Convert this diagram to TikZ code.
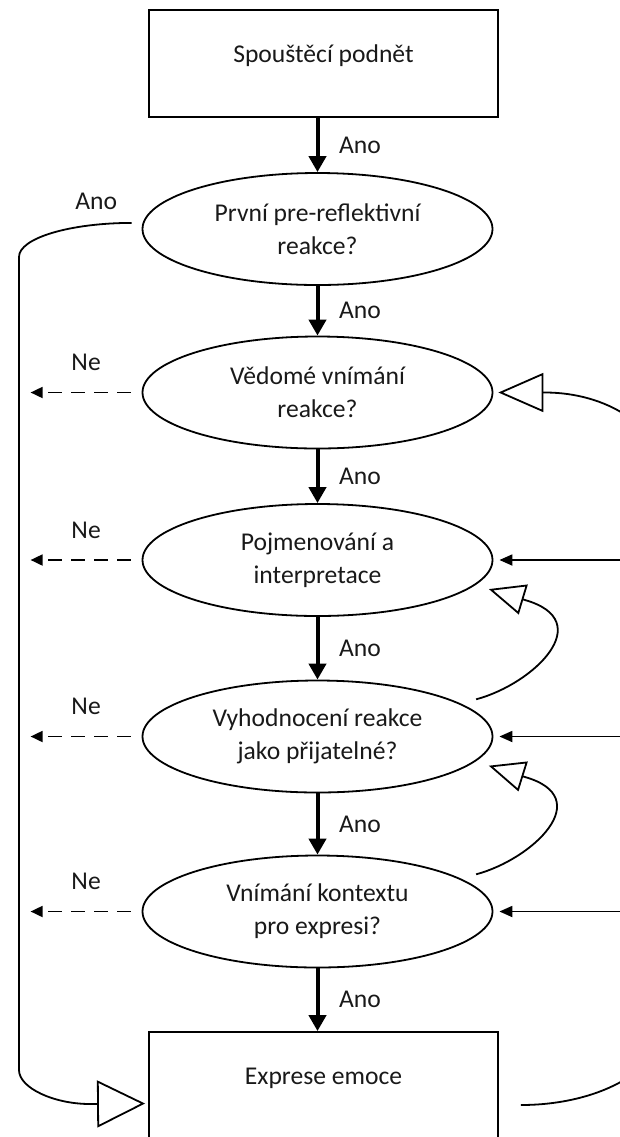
\documentclass[tikz,border=0pt]{standalone}
\usepackage{fontspec}
\setmainfont{Carlito}
\usetikzlibrary{shapes.geometric}
\usetikzlibrary{arrows.meta}
\tikzset{
    stepbox/.style = {rectangle, draw=black, line width=0.9pt, minimum width=174.5pt, inner ysep=0pt, text height=26pt, text depth=27.5pt},
    query/.style = {ellipse, draw=black, line width=0.9pt, minimum width=175pt, minimum height=56pt, inner sep=0pt, align=center},
    edgey/.style = {-{Triangle[length=8pt,width=8.5pt]}, line width=2pt}, % ano
    edgen/.style = {-{Triangle[length=6pt,width=5.5pt]}, line width=0.9pt, dash pattern=on 7pt off 4.5pt}, % ne
    edgeb/.style = {-{Triangle[length=6.5pt,width=5.5pt]}, line width=0.9pt}, % back
    edgeo/.style = {-{Triangle[open,length=18pt,width=15.5pt]}, line width=0.9pt}, % loop
    edgeob/.style = {-{Triangle[open,length=22.5pt,width=19.5pt]}, line width=0.9pt}, % big loop
    edgeol/.style = {-{Triangle[open,length=24pt,width=23.5pt]}, line width=0.9pt}, % skip
    every node/.style = {font=\fontsize{12.8pt}{16.5pt}\selectfont, text=black!90}
}
\begin{document}
\begin{tikzpicture}[x=0.5pt,y=0.5pt]
\useasboundingbox (0,0) rectangle (620,-1137);
\clip (0,0) rectangle (620,-1137);
%
\node[stepbox] at (323.5,-63.5) (start) {Spouštěcí podnět};
\node[query] at (317.5,-229) (q1) {První pre-reflektivní\\reakce?};
\node[query] at (317.5,-392.5) (q2) {Vědomé vnímání\\reakce?};
\node[query] at (317.5,-560) (q3) {Pojmenování a\\interpretace};
\node[query] at (317.5,-736.5) (q4) {Vyhodnocení reakce\\jako přijatelné?};
\node[query] at (317.5,-911.5) (q5) {Vnímání kontextu\\pro expresi?};
\node[stepbox] at (323.5,-1085.5) (expr) {Exprese emoce};
\coordinate (rail) at (660,-700);
%
\draw[edgey] (start.south -| q1.north) -- node[right=6.5pt] {Ano} (q1.north);
\draw[edgey] (q1) -- node[right=6.5pt] {Ano} (q2);
\draw[edgey] (q2) -- node[right=6.5pt] {Ano} (q3);
\draw[edgey] (q3) -- node[right=6.5pt] {Ano} (q4);
\draw[edgey] (q4) -- node[right=6.5pt] {Ano} (q5);
\draw[edgey] (q5.south) -- node[right=6.5pt] {Ano} (q5.south |- expr.north);
%
\draw[edgen, shorten <=5.5pt] (q2.west) -- node[above=7pt] {Ne} ([xshift=-55.5pt]q2.west);
\draw[edgen, shorten <=5.5pt] (q3.west) -- node[above=7pt] {Ne} ([xshift=-55.5pt]q3.west);
\draw[edgen, shorten <=5.5pt] (q4.west) -- node[above=7pt] {Ne} ([xshift=-55.5pt]q4.west);
\draw[edgen, shorten <=5.5pt] (q5.west) -- node[above=7pt] {Ne} ([xshift=-55.5pt]q5.west);
%
\draw[edgeol, shorten >=1.5pt] ([xshift=-5.5pt]q1.178) .. controls (70,-223) and (19,-238) .. (19,-257)
    node[pos=0.2, above=3.5pt] {Ano} -- (19,-1070) .. controls (19,-1088) and (54,-1104) .. (90,-1104)
    -- ([yshift=-9pt]expr.west);
%
\draw[edgeo, shorten <=8pt, shorten >=7pt] (q4.13) to[out=15, in=-16, looseness=1.6] (525,-600) -- (q3.-9);
\draw[edgeo, shorten <=8pt, shorten >=7pt] (q5.13) to[out=15, in=-16, looseness=1.6] (525,-777) -- (q4.-9);
%
\draw[edgeob, shorten >=2.5pt] ([xshift=11pt,yshift=-9.75pt]expr.east) .. controls (597,-1105) and (660,-1071) .. (660,-1030)
    -- (660,-470) .. controls (660,-427) and (607,-392.5) .. (545,-392.5) -- (q2.east);
\draw[edgeb, shorten >=3pt] (q3.east -| rail) -- (q3.east);
\draw[edgeb, shorten >=3pt] (q4.east -| rail) -- (q4.east);
\draw[edgeb, shorten >=3pt] (q5.east -| rail) -- (q5.east);

\end{tikzpicture}
\end{document}
